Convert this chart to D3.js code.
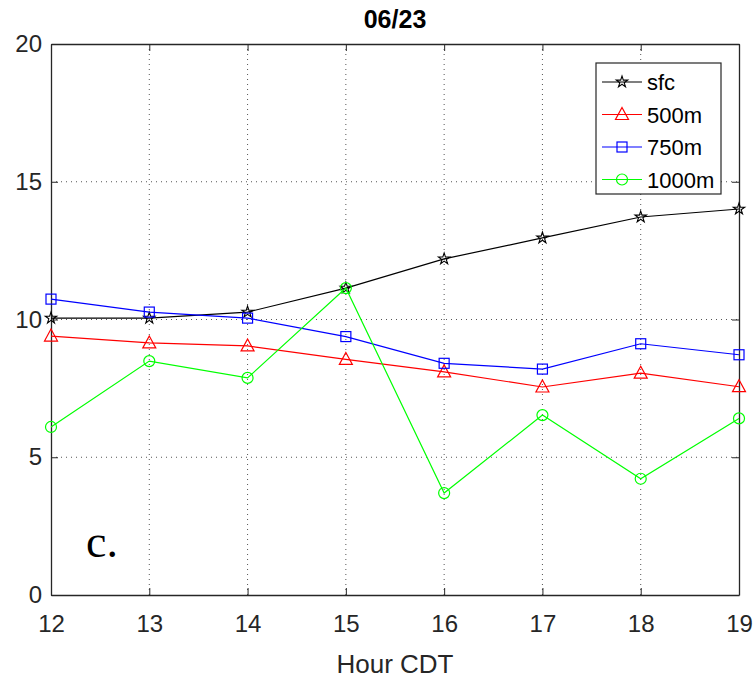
<!DOCTYPE html>
<html>
<head>
<meta charset="utf-8">
<script src="https://cdn.jsdelivr.net/npm/d3@7"></script>
<style>
  body { margin: 0; background: #fff; }
  text { font-family: "Liberation Sans", Arial, sans-serif; }
</style>
</head>
<body>
<div id="container"></div>
<script>
const hours = [12, 13, 14, 15, 16, 17, 18, 19];
const sfc = [10.05, 10.05, 10.27, 11.14, 12.2, 12.96, 13.72, 14.01];
const m500 = [9.4, 9.15, 9.04, 8.55, 8.1, 7.55, 8.05, 7.56];
const m750 = [10.74, 10.27, 10.05, 9.38, 8.41, 8.2, 9.12, 8.72];
const m1000 = [6.1, 8.49, 7.88, 11.14, 3.7, 6.53, 4.22, 6.41];
const yTicks = [0, 5, 10, 15, 20];

const series = [
    { name: "sfc", values: sfc, color: "#000000", marker: "star" },
    { name: "500m", values: m500, color: "#ff0000", marker: "triangle" },
    { name: "750m", values: m750, color: "#0000ff", marker: "square" },
    { name: "1000m", values: m1000, color: "#00ff00", marker: "circle" }
];

const main = (container) => {
    const margin = { top: 44, right: 17, bottom: 84, left: 51 };
    const width = 756 - margin.left - margin.right;
    const height = 679 - margin.top - margin.bottom;
    const axisColor = "#262626";

    const svg = d3.select(container)
        .append("svg")
        .attr("width", 756)
        .attr("height", 679)
        .append("g")
        .attr("transform", `translate(${margin.left},${margin.top})`);

    const xScale = d3.scaleLinear().domain([12, 19]).range([0, width]);
    const yScale = d3.scaleLinear().domain([0, 20]).range([height, 0]);

    // grid
    svg.append("g")
        .selectAll("line")
        .data(hours.slice(1, -1))
        .join("line")
        .attr("x1", d => xScale(d)).attr("x2", d => xScale(d))
        .attr("y1", 0).attr("y2", height)
        .attr("stroke", "#555").attr("stroke-width", 1)
        .attr("stroke-dasharray", "1,4");
    svg.append("g")
        .selectAll("line")
        .data(yTicks.slice(1, -1))
        .join("line")
        .attr("x1", 0).attr("x2", width)
        .attr("y1", d => yScale(d)).attr("y2", d => yScale(d))
        .attr("stroke", "#555").attr("stroke-width", 1)
        .attr("stroke-dasharray", "1,4");

    // axes
    const xAxis = svg.append("g")
        .attr("transform", `translate(0,${height})`)
        .call(d3.axisBottom(xScale).tickValues(hours).tickFormat(d3.format("d"))
            .tickSizeInner(-7).tickSizeOuter(0).tickPadding(20));
    const yAxis = svg.append("g")
        .call(d3.axisLeft(yScale).tickValues(yTicks).tickFormat(d3.format("d"))
            .tickSizeInner(-7).tickSizeOuter(0).tickPadding(9));
    const xTop = svg.append("g")
        .call(d3.axisTop(xScale).tickValues(hours).tickSizeInner(-7).tickSizeOuter(0).tickFormat(""));
    const yRight = svg.append("g")
        .attr("transform", `translate(${width},0)`)
        .call(d3.axisRight(yScale).tickValues(yTicks).tickSizeInner(-7).tickSizeOuter(0).tickFormat(""));

    [xAxis, yAxis, xTop, yRight].forEach(a => {
        a.select(".domain").attr("stroke", axisColor).attr("stroke-width", 1.3);
        a.selectAll(".tick line").attr("stroke", axisColor);
        a.selectAll("text")
            .attr("fill", axisColor)
            .style("font-size", "24px")
            .style("font-family", "Liberation Sans, Arial, sans-serif");
    });

    const line = d3.line()
        .x((d, i) => xScale(hours[i]))
        .y(d => yScale(d));

    const drawMarker = (g, type, color, x, y) => {
        if (type === "circle") {
            g.append("circle").attr("cx", x).attr("cy", y).attr("r", 5.5)
                .attr("fill", "none").attr("stroke", color).attr("stroke-width", 1.2);
        } else if (type === "square") {
            g.append("rect").attr("x", x - 5).attr("y", y - 5).attr("width", 10).attr("height", 10)
                .attr("fill", "none").attr("stroke", color).attr("stroke-width", 1.2);
        } else if (type === "triangle") {
            g.append("path")
                .attr("d", `M${x},${y - 7}L${x + 6.5},${y + 5}L${x - 6.5},${y + 5}Z`)
                .attr("fill", "none").attr("stroke", color).attr("stroke-width", 1.2);
        } else {
            g.append("path")
                .attr("d", d3.symbol(d3.symbolStar, 40)())
                .attr("transform", `translate(${x},${y})`)
                .attr("fill", "none").attr("stroke", color).attr("stroke-width", 1.1);
        }
    };

    series.forEach(s => {
        svg.append("path")
            .datum(s.values)
            .attr("d", line)
            .attr("fill", "none")
            .attr("stroke", s.color)
            .attr("stroke-width", 1.2);
        const mg = svg.append("g");
        s.values.forEach((v, i) => drawMarker(mg, s.marker, s.color, xScale(hours[i]), yScale(v)));
    });

    // title
    svg.append("text")
        .attr("x", 395 - margin.left)
        .attr("y", -16)
        .attr("text-anchor", "middle")
        .attr("fill", "#000")
        .style("font-size", "25px")
        .style("font-weight", "bold")
        .text("06/23");

    svg.append("text")
        .attr("x", width / 2)
        .attr("y", height + 78)
        .attr("text-anchor", "middle")
        .attr("fill", axisColor)
        .style("font-size", "26px")
        .text("Hour CDT");

    svg.append("text")
        .attr("x", 35)
        .attr("y", 513)
        .attr("fill", "#000")
        .style("font-family", "Liberation Serif, 'DejaVu Serif', serif")
        .style("font-size", "46px")
        .text("c.");

    // legend
    const legend = svg.append("g")
        .attr("transform", `translate(${596 - margin.left},${63 - margin.top})`);
    legend.append("rect")
        .attr("width", 125).attr("height", 131)
        .attr("fill", "#fff").attr("stroke", axisColor).attr("stroke-width", 1.2);
    series.forEach((s, i) => {
        const y = 19 + i * 32.5;
        legend.append("line")
            .attr("x1", 6).attr("x2", 46).attr("y1", y).attr("y2", y)
            .attr("stroke", s.color).attr("stroke-width", 1.2);
        drawMarker(legend, s.marker, s.color, 26, y);
        legend.append("text")
            .attr("x", 51).attr("y", y + 8)
            .attr("fill", "#000")
            .style("font-size", "22px")
            .text(s.name);
    });
};

const container = document.getElementById("container");
main(container);
</script>
</body>
</html>
